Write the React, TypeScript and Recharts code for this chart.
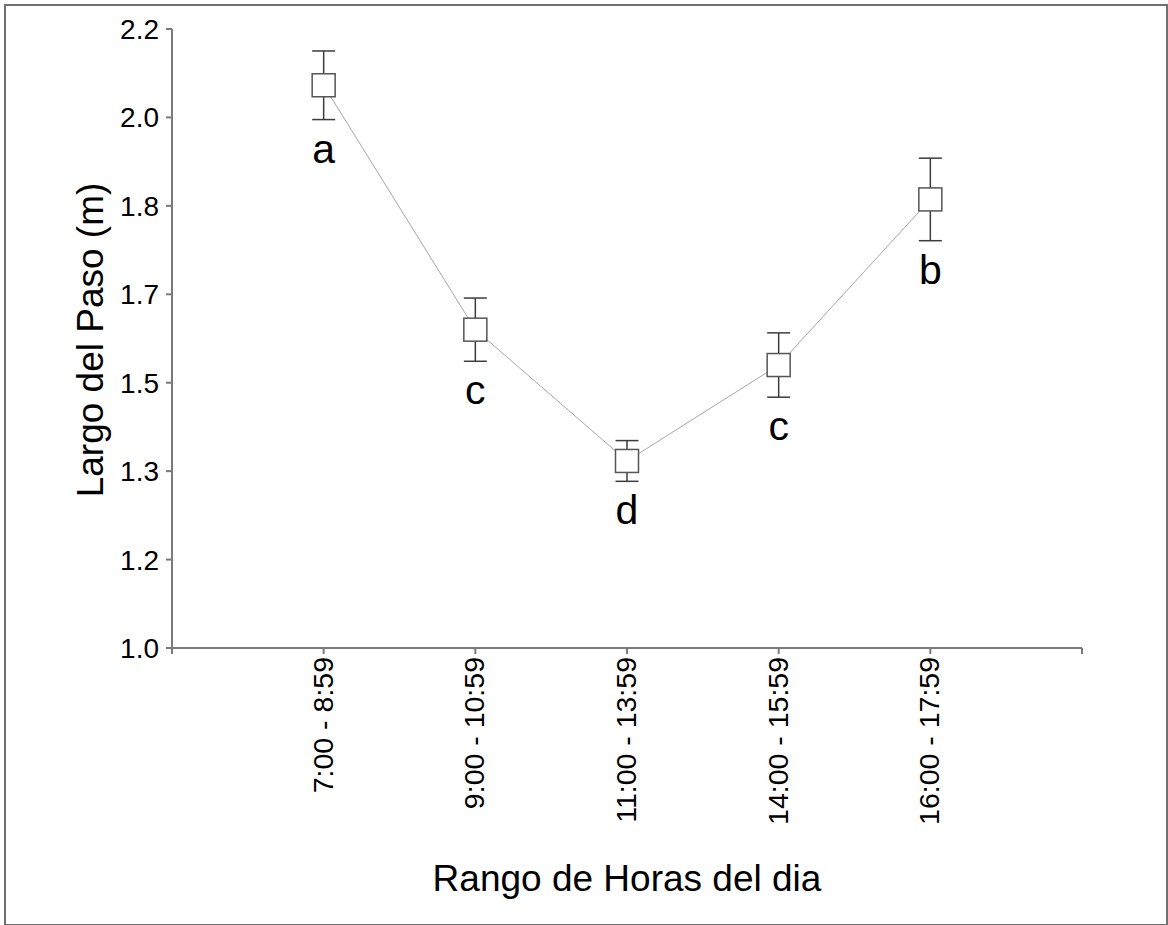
import { ComposedChart, Line, XAxis, YAxis, ErrorBar, LabelList, Label } from "recharts";

const categories = ["7:00 - 8:59", "9:00 - 10:59", "11:00 - 13:59", "14:00 - 15:59", "16:00 - 17:59"];
const means = [2.05, 1.594, 1.349, 1.528, 1.837];
const errors = [0.064, 0.059, 0.038, 0.06, 0.077];
const letters = ["a", "c", "d", "c", "b"];
const yTicks = [1, 1.165, 1.33, 1.495, 1.66, 1.825, 1.99, 2.155];
const yTickLabels = ["1.0", "1.2", "1.3", "1.5", "1.7", "1.8", "2.0", "2.2"];
const xTicks = [0, 1, 2, 3, 4, 5, 6];

const data = categories.map((c, i) => ({
    pos: i + 1,
    name: c,
    mean: means[i],
    err: errors[i],
    lo: means[i] - errors[i],
    letter: letters[i],
}));

const FONT = "'Liberation Sans', Arial, sans-serif";
const AXIS = "#7a7a7a";

const SquareDot = (props: any) => {
    const { cx, cy } = props;
    if (cx == null || cy == null) return null;
    return <rect x={cx - 11.5} y={cy - 11.5} width={23} height={23} fill="#fff" stroke="#555" strokeWidth={1.5} />;
};

// rotated category labels hanging below each tick
const XTick = (props: any) => {
    const { x, y, payload } = props;
    const label = categories[payload.value - 1];
    if (!label) return null;
    return (
        <g transform={`translate(${x},${y})`}>
            <text transform="rotate(-90)" x={-3} y={9} textAnchor="end" fontSize={28.5} fontFamily={FONT} fill="#000">
                {label}
            </text>
        </g>
    );
};

const LetterLabel = (props: any) => {
    const { x, y, value } = props;
    return (
        <text x={x} y={y + 43} textAnchor="middle" fontSize={41} fontFamily={FONT} fill="#000">
            {value}
        </text>
    );
};

export default function App() {
    return (
        <div style={{ position: "absolute", left: 0, top: 0, width: 1168, height: 925, background: "#fff", fontFamily: FONT }}>
            <div style={{ position: "absolute", left: 4, top: 4, width: 1160, height: 918, border: "2px solid #707070" }} />
            <ComposedChart width={1168} height={925} data={data} margin={{ top: 29, right: 86, bottom: 0, left: 0 }} style={{ position: "absolute", left: 0, top: 0 }}>
                <XAxis
                    type="number"
                    dataKey="pos"
                    domain={[0, 6]}
                    ticks={xTicks}
                    interval={0}
                    height={277}
                    stroke={AXIS}
                    strokeWidth={2}
                    tickSize={6}
                    tickMargin={0}
                    tick={<XTick />}
                >
                    <Label
                        content={() => (
                            <text x={627} y={891} textAnchor="middle" fontSize={37} fontFamily={FONT} fill="#000">
                                Rango de Horas del dia
                            </text>
                        )}
                    />
                </XAxis>
                <YAxis
                    type="number"
                    domain={[1, 2.155]}
                    ticks={yTicks}
                    interval={0}
                    width={172}
                    stroke={AXIS}
                    strokeWidth={2}
                    tickSize={6}
                    tickMargin={7}
                    tick={{ fill: "#000", fontSize: 28, fontFamily: FONT }}
                    tickFormatter={(v: number) => yTickLabels[yTicks.indexOf(v)] ?? ""}
                >
                    <Label
                        content={() => (
                            <text transform="translate(103,340) rotate(-90)" textAnchor="middle" fontSize={37} fontFamily={FONT} fill="#000">
                                Largo del Paso (m)
                            </text>
                        )}
                    />
                </YAxis>
                <Line
                    type="linear"
                    dataKey="mean"
                    stroke="#a6a6a6"
                    strokeWidth={1}
                    dot={<SquareDot />}
                    activeDot={false}
                    isAnimationActive={false}
                >
                    <ErrorBar dataKey="err" direction="y" width={11.5} stroke="#3c3c3c" strokeWidth={1.5} isAnimationActive={false} />
                </Line>
                {/* invisible series at the lower whisker end, carrying the group letters */}
                <Line
                    type="linear"
                    dataKey="lo"
                    stroke="none"
                    dot={false}
                    activeDot={false}
                    isAnimationActive={false}
                >
                    <LabelList dataKey="letter" content={<LetterLabel />} />
                </Line>
            </ComposedChart>
        </div>
    );
}
